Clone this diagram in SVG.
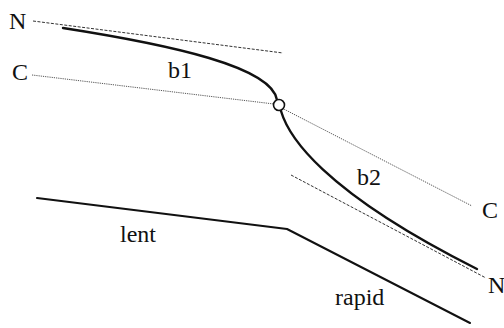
<svg xmlns="http://www.w3.org/2000/svg" width="504" height="328" viewBox="0 0 504 328">
  <style>
    .lbl { font-family: "Liberation Serif", "Times New Roman", serif; font-size: 24px; fill: #111; }
    .curve { fill: none; stroke: #111; stroke-width: 2.4; stroke-linecap: round; }
    .speed { fill: none; stroke: #111; stroke-width: 2; stroke-linecap: round; stroke-linejoin: round; }
    .tanN { fill: none; stroke: #333; stroke-width: 1; stroke-dasharray: 3 1.5; }
    .lineC { fill: none; stroke: #444; stroke-width: 0.9; stroke-dasharray: 1.2 1; }
  </style>
  <rect width="504" height="328" fill="#fff"/>

  <g id="guides">
    <!-- N tangents -->
    <line class="tanN" x1="33" y1="21" x2="283" y2="53"/>
    <line class="tanN" x1="291" y1="175" x2="486" y2="278"/>
    <!-- C line through the inflection point -->
    <polyline class="lineC" points="32,75 274,104 472,206"/>
  </g>

  <g id="profile">
    <path class="curve" d="M63,28 C172,45 272,67 277,100"/>
    <path class="curve" d="M281,111 C288,135 320,190 477,269"/>
    <circle cx="279" cy="105" r="5.5" fill="#fff" stroke="#111" stroke-width="1.6"/>
  </g>

  <g id="regime">
    <polyline class="speed" points="37,198 287,229 470,323"/>
  </g>

  <g id="labels">
    <text class="lbl" x="9" y="29">N</text>
    <text class="lbl" x="12" y="80">C</text>
    <text class="lbl" x="168" y="78">b1</text>
    <text class="lbl" x="357" y="185">b2</text>
    <text class="lbl" x="482" y="218">C</text>
    <text class="lbl" x="488" y="293">N</text>
    <text class="lbl" x="120" y="242">lent</text>
    <text class="lbl" x="335" y="305">rapid</text>
  </g>
</svg>
